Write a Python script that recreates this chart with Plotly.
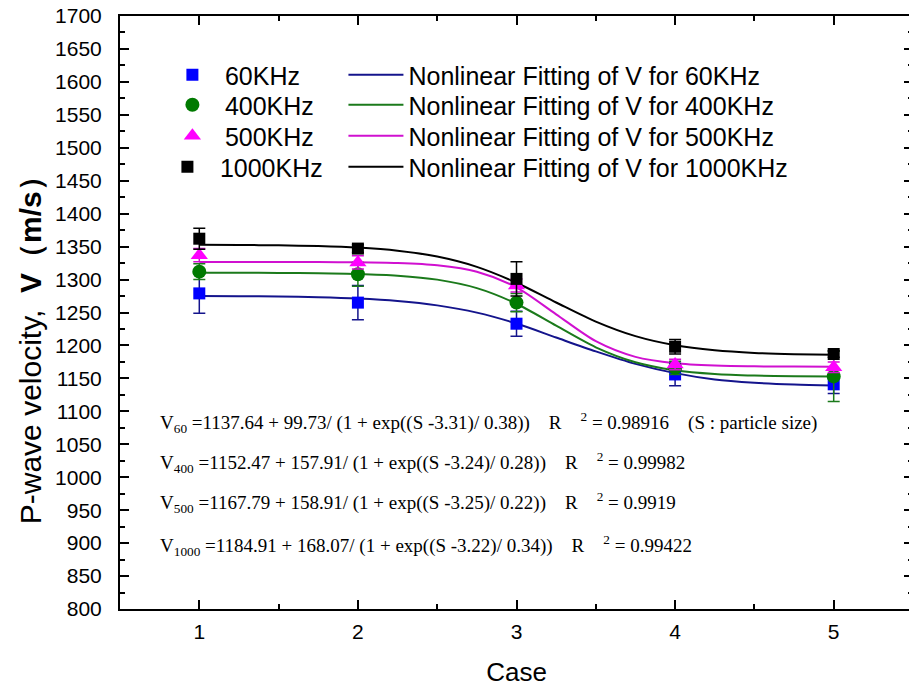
import plotly.graph_objects as go

cases = [1, 2, 3, 4, 5]
v60 = [1279, 1265, 1233, 1156, 1141]
v400 = [1312, 1308, 1265, 1166, 1153]
v500 = [1337, 1326, 1291, 1171, 1167]
v1000 = [1362, 1347, 1301, 1198, 1187]
e60 = [30, 26, 19, 17, 14]
e400 = [12, 18, 14, 10, 38]
e500 = [10, 10, 10, 8, 8]
e1000 = [16, 6, 26, 11, 5]

s_fit = [1.0, 1.25, 1.5, 1.75, 2.0, 2.25, 2.5, 2.75, 3.0, 3.25, 3.5, 3.75, 4.0, 4.25, 4.5, 4.75, 5.0]
fit60 = [1275.1, 1274.8, 1274.3, 1273.2, 1271.2, 1267.5, 1260.8, 1249.8, 1233.2, 1212.0, 1191.0, 1172.0, 1158.0, 1148.3, 1143.4, 1140.7, 1139.2]
fit400 = [1310.3, 1310.3, 1310.1, 1309.6, 1308.5, 1305.9, 1299.9, 1287.0, 1263.3, 1230.0, 1197.2, 1174.5, 1162.3, 1156.6, 1154.2, 1153.2, 1152.8]
fit500 = [1326.7, 1326.7, 1326.6, 1326.5, 1326.2, 1325.0, 1321.6, 1311.9, 1288.1, 1247.2, 1206.4, 1182.6, 1172.9, 1169.5, 1168.3, 1168.0, 1167.8]
fit1000 = [1352.7, 1352.5, 1351.9, 1350.8, 1348.5, 1343.8, 1334.9, 1319.3, 1295.2, 1265.2, 1236.2, 1214.1, 1200.3, 1192.7, 1188.7, 1186.8, 1185.8]

names = ["60KHz", "400KHz", "500KHz", "1000KHz"]
fit_names = ["Nonlinear Fitting of V for " + n for n in names]
y_ticks = list(range(800, 1701, 50))

equations = [
    "V<sub>60</sub> =1137.64 + 99.73/ (1 + exp((S -3.31)/ 0.38))    R    <sup>2</sup> = 0.98916    (S : particle size)",
    "V<sub>400</sub> =1152.47 + 157.91/ (1 + exp((S -3.24)/ 0.28))    R    <sup>2</sup> = 0.99982",
    "V<sub>500</sub> =1167.79 + 158.91/ (1 + exp((S -3.25)/ 0.22))    R    <sup>2</sup> = 0.9919",
    "V<sub>1000</sub> =1184.91 + 168.07/ (1 + exp((S -3.22)/ 0.34))    R    <sup>2</sup> = 0.99422",
]

pt_colors = ["#0000FF", "#007A00", "#FF00FF", "#000000"]
fit_colors = ["#14148C", "#1B7A1B", "#D010D0", "#000000"]
symbols = ["square", "circle", "triangle-up", "square"]
sizes = [12, 14, 15, 12]

# pixel geometry of the plot area (right border sits just past the window edge)
L, T, B, W = 120, 16, 609, 915
PW, PH = W - L, B - T

def px_x(p):
    return (p - L) / PW

def px_y(p):
    return (B - p) / PH

font_family = "Liberation Sans, Arial, sans-serif"

fig = go.Figure()
series = [v60, v400, v500, v1000]
errs = [e60, e400, e500, e1000]
fits = [fit60, fit400, fit500, fit1000]
rows = [75, 105, 136, 167]
marker_legend_x = [160, 160, 160, 155]

for i in range(4):
    fig.add_trace(go.Scatter(
        x=s_fit, y=fits[i], mode="lines", name=fit_names[i],
        line=dict(color=fit_colors[i], width=2, shape="spline", smoothing=0.8),
        legend="legend%d" % (i + 5),
    ))
for i in range(4):
    fig.add_trace(go.Scatter(
        x=cases, y=series[i], mode="markers", name=names[i],
        marker=dict(symbol=symbols[i], size=sizes[i], color=pt_colors[i]),
        error_y=dict(type="data", array=errs[i], color=fit_colors[i], thickness=1.5, width=6),
        legend="legend" if i == 0 else "legend%d" % (i + 1),
    ))

for k, eq in enumerate(equations):
    ypx = [422, 462, 502, 545][k]
    fig.add_annotation(
        x=px_x(158), y=px_y(ypx), xref="paper", yref="paper",
        xanchor="left", yanchor="middle", showarrow=False, text=eq,
        font=dict(family="Liberation Serif, Times New Roman, serif", size=19, color="black"),
    )

fig.add_annotation(
    x=px_x(30), y=px_y(343), xref="paper", yref="paper",
    xanchor="center", yanchor="middle", showarrow=False, textangle=-90,
    text="P-wave velocity,  <b>V（m/s）</b>",
    font=dict(family=font_family, size=30, color="black"),
)

axis_common = dict(
    showline=True, linecolor="black", linewidth=2, mirror="ticks",
    ticks="inside", ticklen=9, tickwidth=2, tickcolor="black",
    showgrid=False, zeroline=False,
    tickfont=dict(family=font_family, size=21, color="black"),
)

fig.update_xaxes(
    range=[0.5, 5.5], tickvals=cases, ticktext=[str(c) for c in cases],
    title=dict(text="Case", font=dict(family=font_family, size=26, color="black"), standoff=21),
    minor=dict(ticks="inside", ticklen=5, tickwidth=1.5, tickcolor="black", dtick=0.5, tick0=0.5),
    ticklabelstandoff=3,
    **axis_common,
)
fig.update_yaxes(
    range=[800, 1700], tickvals=y_ticks, ticktext=[str(t) for t in y_ticks],
    minor=dict(ticks="inside", ticklen=5, tickwidth=1.5, tickcolor="black", dtick=25, tick0=800),
    ticklabelstandoff=12,
    **axis_common,
)

legend_common = dict(
    bgcolor="rgba(0,0,0,0)", borderwidth=0, orientation="v",
    font=dict(family=font_family, size=25, color="black"),
    tracegroupgap=0, itemwidth=55, xanchor="left", yanchor="middle",
)
legends = {}
for i in range(4):
    key = "legend" if i == 0 else "legend%d" % (i + 1)
    legends[key] = dict(x=px_x(marker_legend_x[i]), y=px_y(rows[i]), **legend_common)
    legends["legend%d" % (i + 5)] = dict(x=px_x(344), y=px_y(rows[i]), **legend_common)

fig.update_layout(
    width=W, height=687,
    margin=dict(l=L, r=0, t=T, b=687 - B),
    paper_bgcolor="white", plot_bgcolor="white",
    showlegend=True,
    **legends,
)

fig.write_html(
    "out.html",
    config={"displayModeBar": False},
    post_script="document.body.style.margin='0';document.body.style.overflow='hidden';",
)
